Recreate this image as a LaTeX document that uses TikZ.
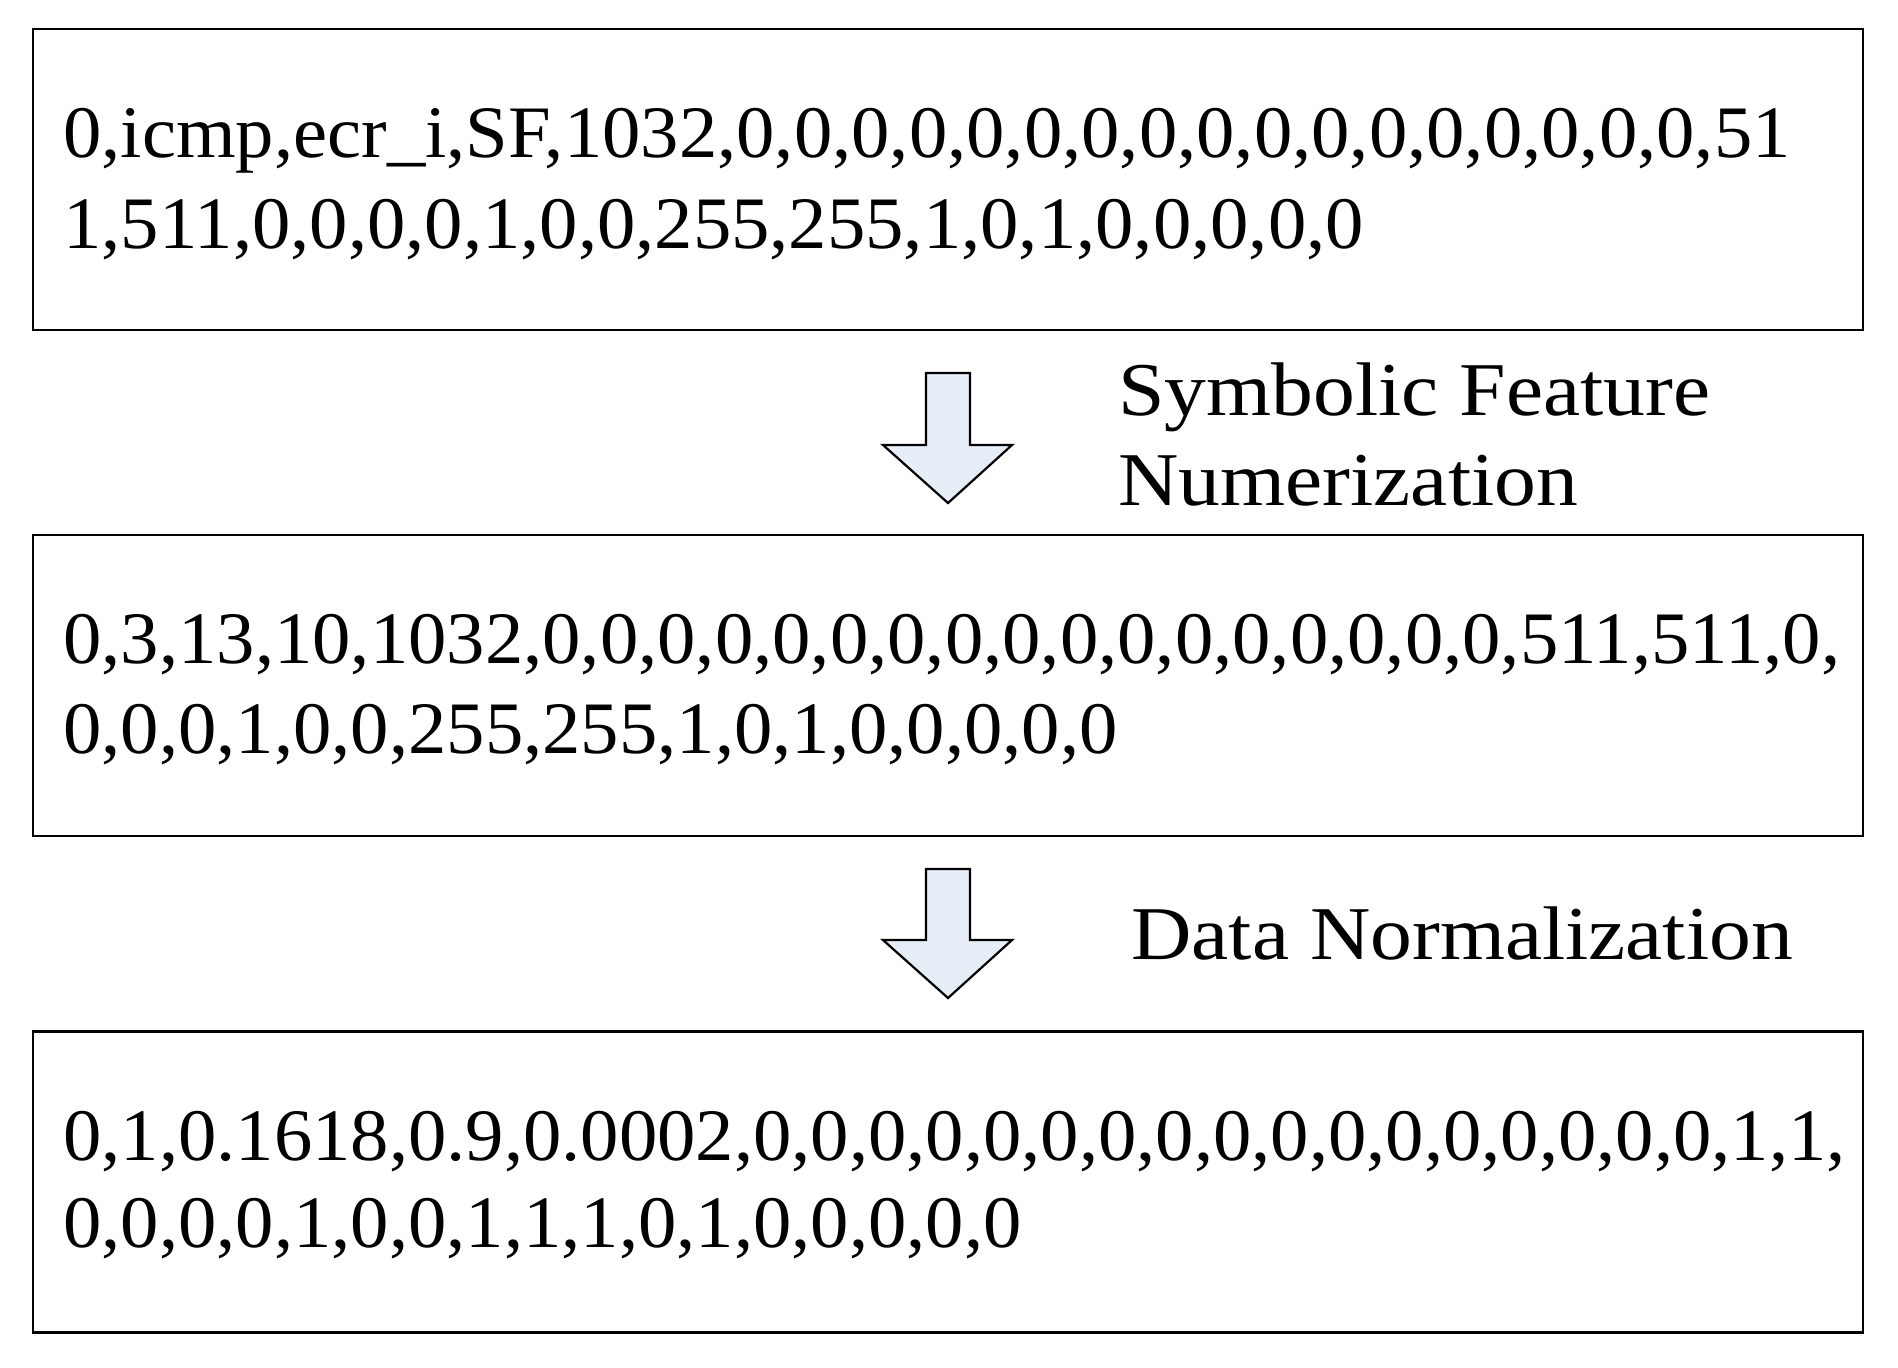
\documentclass[tikz,border=0pt]{standalone}
\usepackage{fontspec}
\setmainfont{Liberation Serif}
\newfontfamily\rowfont[FakeStretch=1.036]{Liberation Serif}
\newfontfamily\labfont[FakeStretch=1.1]{Liberation Serif}
\definecolor{arrowfill}{RGB}{230,237,247}
\begin{document}
\begin{tikzpicture}[x=0.5pt,y=-0.5pt,
  databox/.style={draw=black,line width=1.1pt,rectangle,minimum width=915pt,minimum height=150.5pt,inner sep=0pt},
  rowtext/.style={anchor=base west,inner sep=0pt,font=\rowfont\fontsize{37}{44}\selectfont},
  labeltext/.style={anchor=base west,inner sep=0pt,font=\labfont\fontsize{38}{45}\selectfont},
  blockarrow/.style={draw=black,line width=1.1pt,fill=arrowfill,line join=miter}]
\useasboundingbox (0,0) rectangle (1898,1367);
\node[databox] (b1) at (948,179.5) {};
\node[databox] (b2) at (948,685.5) {};
\node[databox] (b3) at (948,1182) {};
% texts
\node[rowtext] (t1a) at (63,157) {0,icmp,ecr\_i,SF,1032,0,0,0,0,0,0,0,0,0,0,0,0,0,0,0,0,0,51};
\node[rowtext] (t1b) at (63,248) {1,511,0,0,0,0,1,0,0,255,255,1,0,1,0,0,0,0,0};
\node[rowtext] (t2a) at (63,663) {0,3,13,10,1032,0,0,0,0,0,0,0,0,0,0,0,0,0,0,0,0,0,511,511,0,};
\node[rowtext] (t2b) at (63,753) {0,0,0,1,0,0,255,255,1,0,1,0,0,0,0,0};
\node[rowtext] (t3a) at (63,1160) {0,1,0.1618,0.9,0.0002,0,0,0,0,0,0,0,0,0,0,0,0,0,0,0,0,0,1,1,};
\node[rowtext] (t3b) at (63,1247) {0,0,0,0,1,0,0,1,1,1,0,1,0,0,0,0,0};
% labels
\node[labeltext] (l1a) at (1118,415) {Symbolic Feature};
\node[labeltext] (l1b) at (1118,505) {Numerization};
\node[labeltext] (l2) at (1131,959) {Data Normalization};
% block arrows
\draw[blockarrow] (926,373) -- (970,373) -- (970,445) -- (1012,445) -- (948,503) -- (883,445) -- (926,445) -- cycle;
\draw[blockarrow] (926,869) -- (970,869) -- (970,940) -- (1012,940) -- (948,998) -- (883,940) -- (926,940) -- cycle;
\end{tikzpicture}
\end{document}
